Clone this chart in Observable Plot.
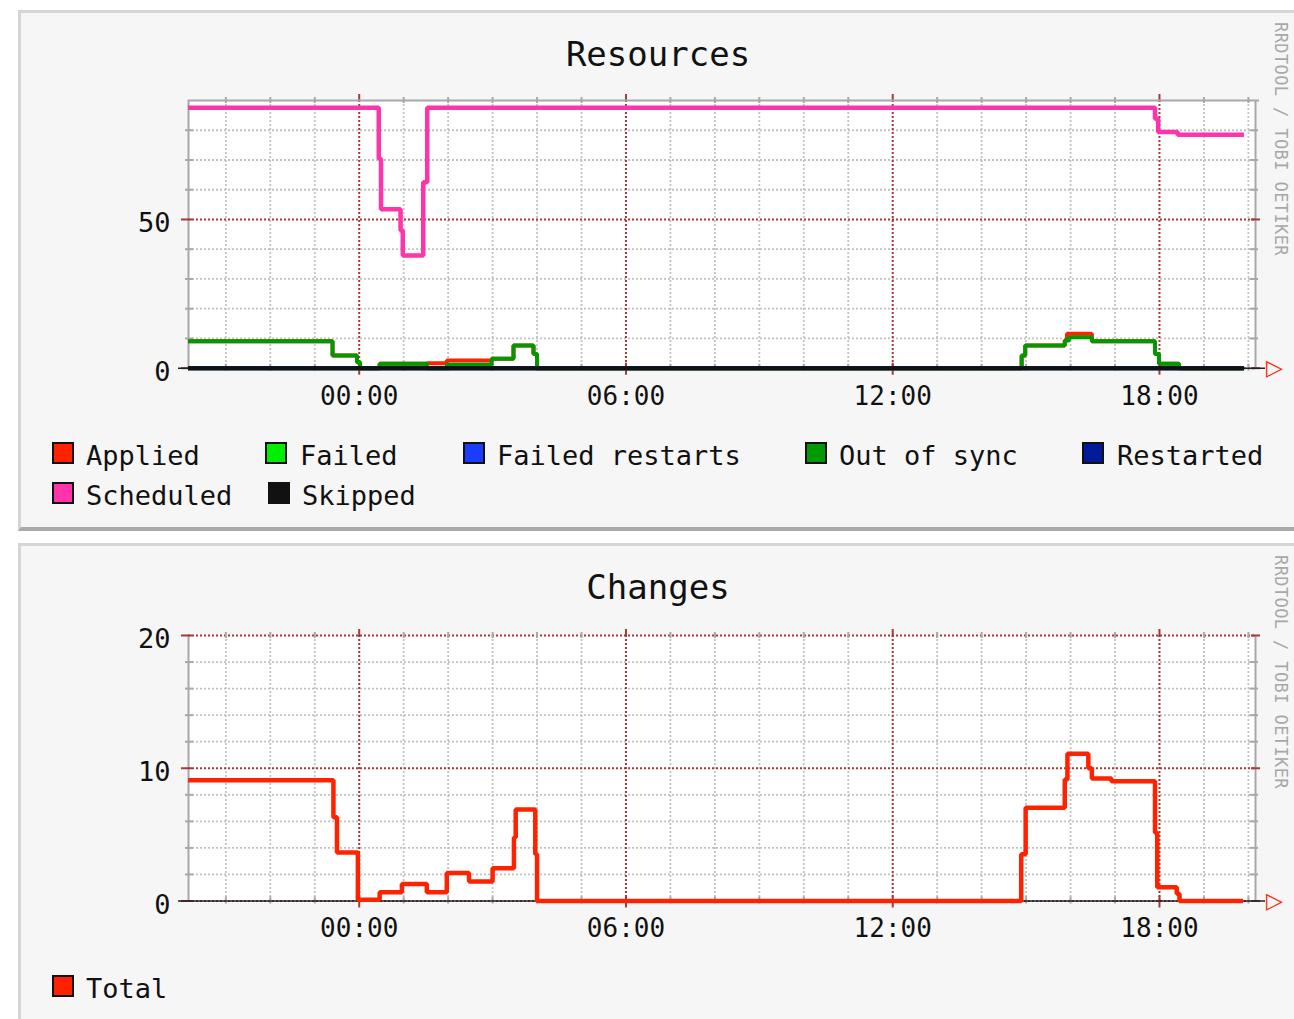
<!DOCTYPE html>
<html><head><meta charset="utf-8">
<script src="https://cdn.jsdelivr.net/npm/d3@7"></script>
<script src="https://cdn.jsdelivr.net/npm/@observablehq/plot@0.6"></script>
<style>
body{margin:0;background:#fff;width:1294px;height:1019px;position:relative;overflow:hidden;font-family:"DejaVu Sans Mono",monospace;}
.panel{position:absolute;left:18px;width:1290px;background:#f6f6f6;border-top:3px solid #d5d5d5;border-left:3px solid #d5d5d5;box-sizing:border-box;}
.title{position:absolute;left:0;width:1316px;text-align:center;font-size:34px;line-height:1;color:#111;}
.sw{position:absolute;width:18px;height:18px;border:2px solid #111;}
.lt{position:absolute;font-size:27px;line-height:1;color:#111;white-space:pre;}
.wm{position:absolute;writing-mode:vertical-rl;font-size:17px;line-height:1;color:#a8a8a8;letter-spacing:0.4px;}
.chart{position:absolute;left:0;}
</style></head>
<body>
<div class="panel" style="top:10px;height:521px;border-bottom:4px solid #a9a9a9;"></div>
<div class="panel" style="top:543px;height:500px;"></div>
<div class="title" style="top:37px;">Resources</div>
<div class="title" style="top:570px;">Changes</div>
<div class="wm" style="left:1272px;top:22px;">RRDTOOL / TOBI OETIKER</div>
<div class="wm" style="left:1272px;top:555px;">RRDTOOL / TOBI OETIKER</div>
<div id="c1" class="chart" style="top:0px;"></div>
<div id="c2" class="chart" style="top:543px;"></div>
<div id="legend"></div>
<script>
// ---- data (time in hours relative to 00:00) ----
const xTickHours = [0, 6, 12, 18];
const xTickLabels = ["00:00", "06:00", "12:00", "18:00"];
const xDomain = [-3.84, 20.16];

const resYTicks = [0, 50];
const resYLabels = ["0", "50"];
const resYMinor = [10, 20, 30, 40, 60, 70, 80];
const resYMax = 90;

const chgYTicks = [0, 10, 20];
const chgYLabels = ["0", "10", "20"];
const chgYMinor = [2, 4, 6, 8, 12, 14, 16, 18];
const chgYMax = 20;

const seriesNames = ["Applied", "Failed", "Failed restarts", "Out of sync", "Restarted", "Scheduled", "Skipped"];
const seriesColors = ["#ff2200", "#00ee00", "#1a3cff", "#009900", "#001a99", "#ff33aa", "#111111"];

const applied = [[-3.85,9.1],[-0.6,4.3],[-0.05,2.0],[0.02,0],[0.46,1.5],[1.52,1.7],[1.97,2.6],[2.98,3.2],[3.47,7.6],[3.92,4.8],[4.0,0],[14.9,4.3],[14.98,7.6],[15.87,9.3],[15.92,11.6],[16.48,9.1],[17.9,4.8],[17.99,1.5],[18.44,0],[19.9,0]];
const failed = [[-3.85,0],[19.9,0]];
const failedRestarts = [[-3.85,0],[19.9,0]];
const outOfSync = [[-3.85,9.1],[-0.6,4.3],[-0.05,2.0],[0.02,0],[0.46,1.5],[1.52,0],[1.97,1.2],[2.98,3.2],[3.47,7.6],[3.92,4.8],[4.0,0],[14.9,4.3],[14.98,7.6],[15.87,9.3],[15.97,10.4],[16.48,9.1],[17.9,4.8],[17.99,1.5],[18.44,0],[19.9,0]];
const restarted = [[-3.85,0],[19.9,0]];
const scheduled = [[-3.85,87.6],[0.44,70.4],[0.49,53.4],[0.93,46.3],[0.98,37.9],[1.44,62.5],[1.53,87.6],[17.9,83.9],[17.97,79.4],[18.41,78.5],[19.9,78.5]];
const skipped = [[-3.85,0],[19.9,0]];

const totalName = "Total";
const totalColor = "#ff2200";
const total = [[-3.85,9.1],[-0.58,6.3],[-0.5,3.66],[-0.03,0.1],[0.46,0.66],[0.96,1.29],[1.52,0.66],[1.97,2.11],[2.47,1.46],[3.0,2.46],[3.48,4.78],[3.52,6.9],[3.96,3.53],[4.0,0],[14.89,3.53],[14.99,7.03],[15.87,9.15],[15.93,11.1],[16.4,10.0],[16.48,9.23],[16.92,9.03],[17.9,5.15],[17.95,1.03],[18.39,0.54],[18.45,0],[19.88,0]];

const resSeries = [applied, failed, failedRestarts, outOfSync, restarted, scheduled, skipped];
const resWidths = [4, 4, 4, 4, 4, 4.5, 4];

// ---- chart builder ----
const W = 1294, ML = 188, MR = 39;
const pxPerHour = (W - ML - MR) / (xDomain[1] - xDomain[0]);
const xMinor = d3.range(Math.ceil(xDomain[0]), Math.floor(xDomain[1]) + 1).filter(h => h % 6 !== 0);
const GRAY = "#a8a8a8", MAJOR = "#a83838", MINOR = "#c2c2c2";

function panel({height, mt, mb, ymax, yMinor, yTicks, yLabels, lines, topGray}) {
  const pxPerUnit = (height - mt - mb) / ymax;
  const hx = p => p / pxPerHour, vy = p => p / pxPerUnit;
  const x0 = xDomain[0], x1 = xDomain[1];
  const marks = [
    Plot.frame({fill: "white", stroke: null}),
    Plot.ruleY(yMinor, {stroke: MINOR, strokeWidth: 1.8, strokeDasharray: "2,2"}),
    Plot.ruleX(xMinor, {stroke: MINOR, strokeWidth: 1.8, strokeDasharray: "2,2"}),
    Plot.ruleY(yTicks, {stroke: MAJOR, strokeWidth: 2, strokeDasharray: "2,2"}),
    Plot.ruleX(xTickHours, {stroke: MAJOR, strokeWidth: 2, strokeDasharray: "2,2"}),
    // frame lines
    Plot.ruleX([x0, x1], {y1: 0, y2: ymax, stroke: GRAY, strokeWidth: 2}),
    // ticks on left / right axes
    Plot.ruleY(yMinor, {x1: x0 - hx(3), x2: x0 + hx(5), stroke: GRAY, strokeWidth: 2}),
    Plot.ruleY(yMinor, {x1: x1 - hx(5), x2: x1 + hx(3), stroke: GRAY, strokeWidth: 2}),
    Plot.ruleY(yTicks, {x1: x0 - hx(7), x2: x0 + hx(4), stroke: MAJOR, strokeWidth: 2}),
    Plot.ruleY(yTicks, {x1: x1 - hx(4), x2: x1 + hx(5), stroke: MAJOR, strokeWidth: 2}),
    // ticks on top / bottom
    Plot.ruleX(xMinor, {y1: -vy(3), y2: vy(4), stroke: GRAY, strokeWidth: 2}),
    Plot.ruleX(xMinor, {y1: ymax - vy(3), y2: ymax + vy(3), stroke: GRAY, strokeWidth: 2}),
    Plot.ruleX(xTickHours, {y1: -vy(7), y2: vy(5), stroke: MAJOR, strokeWidth: 2}),
    Plot.ruleX(xTickHours, {y1: ymax - vy(2), y2: ymax + vy(6), stroke: MAJOR, strokeWidth: 2}),
  ];
  if (topGray) marks.push(Plot.ruleY([ymax], {x1: x0, x2: x1 + hx(4), stroke: GRAY, strokeWidth: 2}));
  // zero axis
  marks.push(Plot.ruleY([0], {x1: x0 - hx(10), x2: x1 + hx(10), stroke: "#222", strokeWidth: 1.5}));
  for (const l of lines) {
    marks.push(Plot.line(l.data, {x: d => d[0], y: d => d[1], stroke: l.color, strokeWidth: l.w || 3, curve: "step-after", strokeLinejoin: "miter", strokeLinecap: "butt"}));
  }
  marks.push(
    Plot.text([0], {x: x1 + hx(19), y: 0, text: () => "▷", fill: "#ff2200", fontSize: 22, fontFamily: "DejaVu Sans", dy: 0}),
    Plot.text(xTickHours, {x: d => d, y: 0, dy: 28, text: (d, i) => xTickLabels[i], fontSize: 26}),
    Plot.text(yTicks, {x: x0, y: d => d, dx: -18, dy: 4, textAnchor: "end", text: (d, i) => yLabels[i], fontSize: 27})
  );
  return Plot.plot({
    width: W, height, marginLeft: ML, marginRight: MR, marginTop: mt, marginBottom: mb,
    x: {domain: xDomain, axis: null},
    y: {domain: [0, ymax], axis: null},
    style: {background: "transparent", fontFamily: "DejaVu Sans Mono", fontSize: "26px", color: "#111", overflow: "visible"},
    marks
  });
}

document.getElementById("c1").append(panel({
  height: 420, mt: 100, mb: 52.3, ymax: resYMax, yMinor: resYMinor, yTicks: resYTicks, yLabels: resYLabels, topGray: true,
  lines: resSeries.map((d, i) => ({data: d, color: seriesColors[i], w: resWidths[i]}))
}));
document.getElementById("c2").append(panel({
  height: 420, mt: 92, mb: 62.5, ymax: chgYMax, yMinor: chgYMinor, yTicks: chgYTicks, yLabels: chgYLabels, topGray: false,
  lines: [{data: total, color: totalColor, w: 4.5}]
}));

// ---- legends ----
const legendPos = [[52,442,86],[265,442,300],[463,442,497],[805,442,839],[1082,442,1117],[52,482,86],[268,482,302]];
const lg = document.getElementById("legend");
function addItem(name, color, sx, sy, tx) {
  const s = document.createElement("div"); s.className = "sw";
  s.style.left = sx + "px"; s.style.top = sy + "px"; s.style.background = color; lg.append(s);
  const t = document.createElement("div"); t.className = "lt";
  t.style.left = tx + "px"; t.style.top = (sy) + "px"; t.textContent = name; lg.append(t);
}
seriesNames.forEach((n, i) => addItem(n, seriesColors[i], legendPos[i][0], legendPos[i][1], legendPos[i][2]));
addItem(totalName, totalColor, 52, 975, 86);
</script>
</body></html>
